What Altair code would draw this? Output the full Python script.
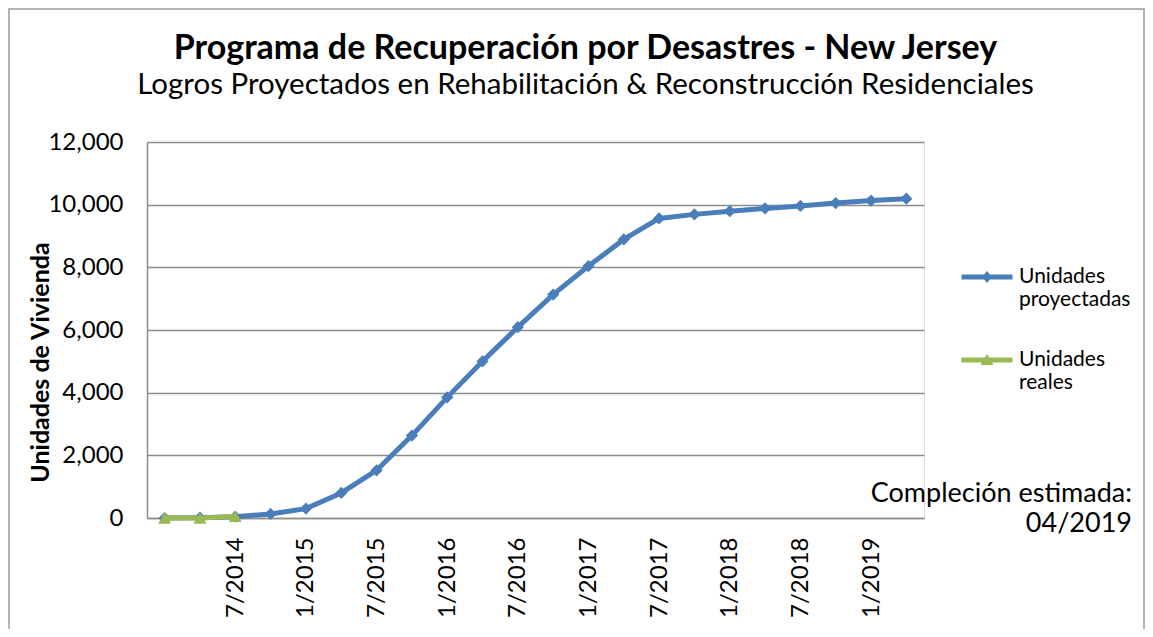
import altair as alt
import pandas as pd

# ---- data ----
fechas = ["1/2014", "4/2014", "7/2014", "10/2014", "1/2015", "4/2015", "7/2015", "10/2015",
          "1/2016", "4/2016", "7/2016", "10/2016", "1/2017", "4/2017", "7/2017", "10/2017",
          "1/2018", "4/2018", "7/2018", "10/2018", "1/2019", "4/2019"]
proyectadas = [0, 10, 40, 130, 300, 800, 1520, 2630, 3850, 5000, 6090, 7130,
               8040, 8890, 9560, 9690, 9790, 9880, 9960, 10050, 10130, 10190]
reales = [0, 0, 50]
series = ["Unidades proyectadas", "Unidades reales"]
etiquetas_x = ["7/2014", "1/2015", "7/2015", "1/2016", "7/2016", "1/2017",
               "7/2017", "1/2018", "7/2018", "1/2019"]
nota = ["Compleción estimada:", "04/2019"]

titulo = "Programa de Recuperación por Desastres - New Jersey"
subtitulo = "Logros Proyectados en Rehabilitación & Reconstrucción Residenciales"

rows = [{"fecha": f, "valor": v, "serie": series[0]} for f, v in zip(fechas, proyectadas)]
rows += [{"fecha": f, "valor": v, "serie": series[1]} for f, v in zip(fechas, reales)]
df = pd.DataFrame(rows)

AZUL = "#4A7EBB"
VERDE = "#98B954"
GRIS = "#8C8C8C"
FONT = "Lato"

x_enc = alt.X("fecha:O", sort=fechas,
              scale=alt.Scale(type="point", padding=0.5, domain=fechas),
              axis=alt.Axis(title=None, values=etiquetas_x, labelAngle=-90,
                            labelFont=FONT, labelFontSize=24, labelColor="black",
                            labelPadding=19, ticks=False, grid=False,
                            domainColor=GRIS, domainWidth=1.5, labelOverlap=False))
y_enc = alt.Y("valor:Q",
              scale=alt.Scale(domain=[0, 12000], nice=False),
              axis=alt.Axis(title="Unidades de Vivienda", values=[0, 2000, 4000, 6000, 8000, 10000, 12000],
                            format=",.0f", labelFont=FONT, labelFontSize=24, labelColor="black",
                            labelPadding=24, ticks=False, grid=True, gridColor=GRIS,
                            gridWidth=1.5, domainColor=GRIS, domainWidth=1.5,
                            titleFont=FONT, titleFontSize=25, titleFontWeight="bold",
                            titleColor="black", titleAngle=-90, titleX=-94, titleY=220,
                            titleAlign="center", titleBaseline="bottom"))

base = alt.Chart(df).encode(x=x_enc, y=y_enc)
df_p = alt.datum.serie == series[0]
df_r = alt.datum.serie == series[1]

linea_p = base.transform_filter(df_p).mark_line(strokeWidth=5, color=AZUL)
puntos_p = base.transform_filter(df_p).mark_point(shape="diamond", filled=True, size=150,
                                                  opacity=1, color=AZUL)
linea_r = base.transform_filter(df_r).mark_line(strokeWidth=5, color=VERDE)
puntos_r = base.transform_filter(df_r).mark_point(shape="triangle-up", filled=True, size=170,
                                                  opacity=1, color=VERDE)

# legend: line + marker symbols
simbolos = [
    "M-1.02,-0.1L1.02,-0.1L1.02,0.1L-1.02,0.1Z M0,-0.24L0.2,0L0,0.24L-0.2,0Z",
    "M-1.02,-0.1L1.02,-0.1L1.02,0.1L-1.02,0.1Z M0,-0.24L0.26,0.2L-0.26,0.2Z",
]
leg = alt.Legend(title=None, orient="none", legendX=815, legendY=110,
                 labelExpr="split(datum.label, ' ')",
                 labelFont=FONT, labelFontSize=21, labelColor="black",
                 labelOffset=7, rowPadding=25,
                 symbolSize=2500, symbolStrokeWidth=0, symbolOpacity=1)
leyenda = base.transform_filter(df_r).mark_point(filled=True, opacity=0.001, size=2500).encode(
    color=alt.Color("serie:N", scale=alt.Scale(domain=series, range=[AZUL, VERDE]), legend=leg),
    shape=alt.Shape("serie:N", scale=alt.Scale(domain=series, range=simbolos), legend=leg),
)

nota_txt = alt.Chart(pd.DataFrame({"t": [0]})).mark_text(
    align="right", baseline="middle", font=FONT, fontSize=27, color="black", lineHeight=30
).encode(x=alt.value(985), y=alt.value(352), text=alt.value(nota))

marco = alt.Chart(pd.DataFrame({"t": [0]})).mark_rect(
    fill=None, stroke="#9A9A9A", strokeWidth=1.5
).encode(x=alt.value(-138), x2=alt.value(997), y=alt.value(-133), y2=alt.value(520))

chart = alt.layer(marco, linea_p, puntos_p, linea_r, puntos_r, leyenda, nota_txt).properties(
    width=777, height=376,
    title=alt.TitleParams(text=titulo, subtitle=subtitulo, font=FONT, fontSize=34, fontWeight="bold",
                          color="black", subtitleFont=FONT, subtitleFontSize=29.5, subtitleColor="black",
                          subtitlePadding=5, anchor="middle", frame="group", dx=50, offset=-91),
    autosize=alt.AutoSizeParams(type="none"),
    padding={"left": 139, "top": 134, "right": 221, "bottom": 111},
).configure_view(stroke=None).configure(background="white")

chart.save("out.html", embed_options={"renderer": "svg", "actions": False})
